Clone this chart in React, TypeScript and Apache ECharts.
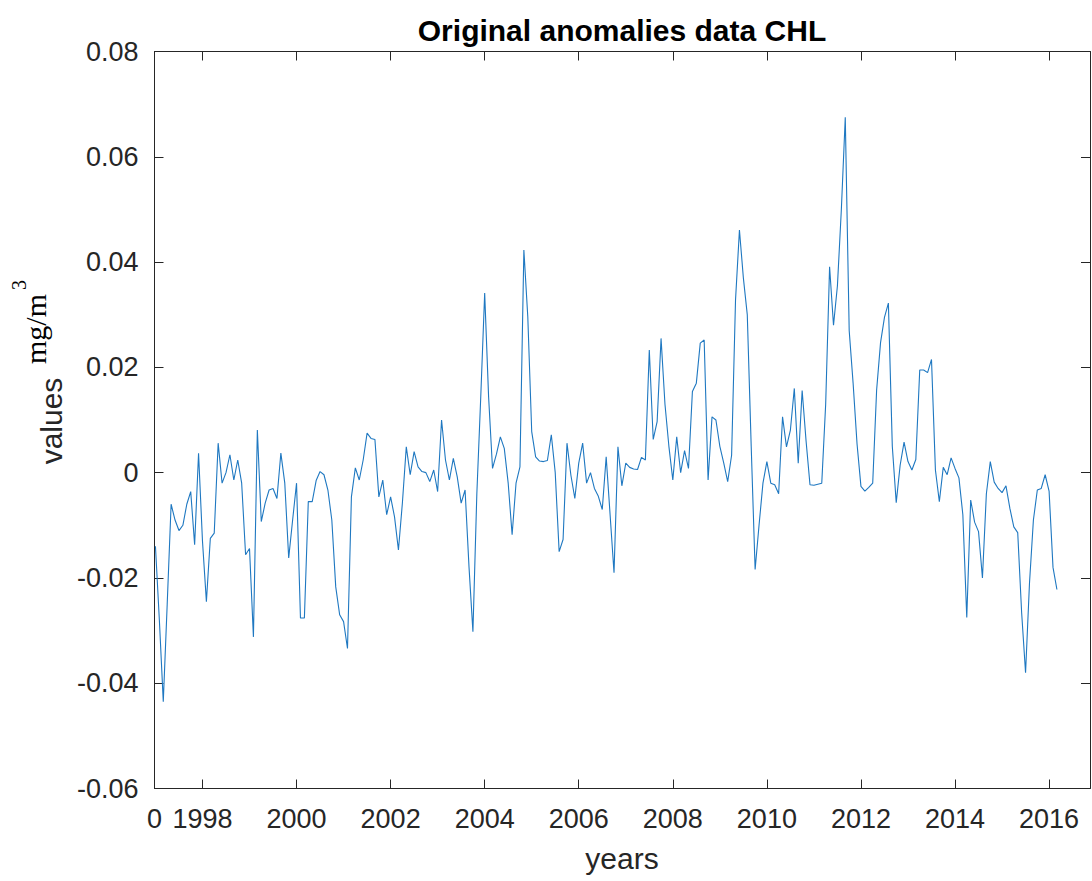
import React, { useEffect, useRef } from "react";
import * as echarts from "echarts";

// Monthly CHL anomalies (mg/m^3), starting Jan 1997
const START_YEAR = 1997;
const chl: number[] = [
  -0.014, -0.028, -0.0435, -0.025, -0.006, -0.009, -0.011, -0.01, -0.006, -0.0036,
  -0.0137, 0.0037, -0.013, -0.0245, -0.0125, -0.0115, 0.0056, -0.002, 0.0, 0.0034,
  -0.0014, 0.0024, -0.002, -0.0156, -0.0144, -0.0312, 0.0081, -0.0093, -0.0058, -0.0033,
  -0.003, -0.0049, 0.0037, -0.002, -0.0162, -0.009, -0.002, -0.0276, -0.0276, -0.0055,
  -0.0055, -0.0015, 0.0002, -0.0004, -0.0033, -0.009, -0.0217, -0.027, -0.0283, -0.0334,
  -0.0046, 0.0009, -0.0014, 0.0024, 0.0075, 0.0065, 0.0063, -0.0046, -0.0014, -0.008,
  -0.0046, -0.0084, -0.0147, -0.0058, 0.0049, -0.0004, 0.004, 0.0011, 0.0002, 0.0,
  -0.0017, 0.0005, -0.0036, 0.01, 0.0024, -0.0014, 0.0027, -0.0008, -0.0058, -0.0033,
  -0.0179, -0.0302, -0.004, 0.0144, 0.0341, 0.0144, 0.0008, 0.0035, 0.0068, 0.0046,
  -0.002, -0.0118, -0.002, 0.0011, 0.0423, 0.0296, 0.0078, 0.003, 0.0022, 0.0021,
  0.0023, 0.0072, 0.0, -0.015, -0.0127, 0.0056, -0.0005, -0.0049, 0.0018, 0.0056,
  -0.002, 0.0, -0.003, -0.0045, -0.007, 0.003, -0.008, -0.019, 0.0049, -0.0025,
  0.0018, 0.001, 0.0007, 0.0006, 0.0029, 0.0024, 0.0233, 0.0063, 0.0097, 0.0255,
  0.013, 0.005, -0.0014, 0.0068, 0.0, 0.0042, 0.0008, 0.0154, 0.017, 0.0246,
  0.0252, -0.0014, 0.0106, 0.01, 0.005, 0.0018, -0.0017, 0.0033, 0.0328, 0.0461,
  0.037, 0.03, 0.005, -0.0184, -0.01, -0.002, 0.0021, -0.002, -0.0023, -0.004,
  0.0106, 0.0049, 0.0081, 0.016, 0.0018, 0.0156, 0.006, -0.0023, -0.0024, -0.0022,
  -0.002, 0.013, 0.0391, 0.028, 0.0355, 0.05, 0.0675, 0.027, 0.017, 0.0055,
  -0.0026, -0.0035, -0.0028, -0.002, 0.0157, 0.0247, 0.0295, 0.0322, 0.005, -0.0057,
  0.0014, 0.0058, 0.0021, 0.0005, 0.0025, 0.0195, 0.0195, 0.019, 0.0215, 0.0005,
  -0.0055, 0.001, -0.0004, 0.0028, 0.0008, -0.001, -0.008, -0.0275, -0.0052, -0.0094,
  -0.0112, -0.02, -0.004, 0.0021, -0.0018, -0.003, -0.0038, -0.0025, -0.0068, -0.0103,
  -0.0114, -0.0266, -0.038, -0.021, -0.009, -0.0033, -0.003, -0.0004, -0.0035, -0.018,
  -0.0222,
];

const X_MIN = 1996.98;
const X_MAX = 2016.87;
const tickYears = [1998, 2000, 2002, 2004, 2006, 2008, 2010, 2012, 2014, 2016];
const labelValues = [X_MIN, ...tickYears];
const Y_MIN = -0.06;
const Y_MAX = 0.08;
const Y_STEP = 0.02;

const TITLE = "Original anomalies data CHL";
const X_NAME = "years";
const Y_NAME = "values";
const Y_UNIT = "mg/m";
const Y_UNIT_SUP = "3";

const SANS = '"Liberation Sans", Arial, Helvetica, sans-serif';
const SERIF = '"Liberation Serif", "Times New Roman", serif';
const AXIS_COLOR = "#262626";

export default function App() {
  const ref = useRef<HTMLDivElement>(null);

  useEffect(() => {
    if (!ref.current) return;
    const chart = echarts.init(ref.current, null, { renderer: "svg" });
    const data = chl.map((v, i) => [START_YEAR + i / 12, v]);

    const axisLine = { show: true, onZero: false, lineStyle: { color: AXIS_COLOR, width: 1 } };
    const tickStyle = { color: AXIS_COLOR, width: 1 };

    chart.setOption({
      animation: false,
      backgroundColor: "#ffffff",
      grid: { left: 154.5, right: 2, top: 51.5, bottom: 92.5 },
      xAxis: [
        {
          type: "value",
          min: X_MIN,
          max: X_MAX,
          position: "bottom",
          axisLine,
          axisTick: { show: true, inside: true, length: 9, customValues: tickYears, lineStyle: tickStyle },
          axisLabel: {
            show: true,
            customValues: labelValues,
            formatter: (v: number) => (v < 1997.5 ? "0" : String(Math.round(v))),
            fontSize: 27,
            fontFamily: SANS,
            color: AXIS_COLOR,
            margin: 17,
          },
          splitLine: { show: false },
        },
        {
          type: "value",
          min: X_MIN,
          max: X_MAX,
          position: "top",
          axisLine,
          axisTick: { show: true, inside: true, length: 9, customValues: tickYears, lineStyle: tickStyle },
          axisLabel: { show: false, customValues: tickYears },
          splitLine: { show: false },
        },
      ],
      yAxis: [
        {
          type: "value",
          min: Y_MIN,
          max: Y_MAX,
          interval: Y_STEP,
          position: "left",
          axisLine,
          axisTick: { show: true, inside: true, length: 9, lineStyle: tickStyle },
          axisLabel: {
            formatter: (v: number) => {
              const r = Math.round(v * 100) / 100;
              return r === 0 ? "0" : r.toFixed(2);
            },
            fontSize: 27,
            fontFamily: SANS,
            color: AXIS_COLOR,
            margin: 16,
          },
          splitLine: { show: false },
        },
        {
          type: "value",
          min: Y_MIN,
          max: Y_MAX,
          interval: Y_STEP,
          position: "right",
          axisLine,
          axisTick: { show: true, inside: true, length: 9, lineStyle: tickStyle },
          axisLabel: { show: false },
          splitLine: { show: false },
        },
      ],
      series: [
        {
          type: "line",
          xAxisIndex: 0,
          yAxisIndex: 0,
          data,
          showSymbol: false,
          symbol: "none",
          silent: true,
          lineStyle: { color: "#1f78c1", width: 1.1 },
        },
      ],
      graphic: [
        {
          type: "text",
          x: 622,
          y: 30,
          style: {
            text: TITLE,
            fontSize: 30,
            fontWeight: "bold",
            fontFamily: SANS,
            fill: "#000000",
            align: "center",
            verticalAlign: "middle",
          },
        },
        {
          type: "text",
          x: 622,
          y: 858,
          style: {
            text: X_NAME,
            fontSize: 30,
            fontFamily: SANS,
            fill: AXIS_COLOR,
            align: "center",
            verticalAlign: "middle",
          },
        },
        {
          type: "text",
          x: 51,
          y: 421,
          rotation: Math.PI / 2,
          style: {
            text: Y_NAME,
            fontSize: 30,
            fontFamily: SANS,
            fill: AXIS_COLOR,
            align: "center",
            verticalAlign: "middle",
          },
        },
        {
          type: "text",
          x: 35,
          y: 329,
          rotation: Math.PI / 2,
          style: {
            text: Y_UNIT,
            fontSize: 30,
            fontFamily: SERIF,
            fill: "#000000",
            align: "center",
            verticalAlign: "middle",
          },
        },
        {
          type: "text",
          x: 19,
          y: 285,
          rotation: Math.PI / 2,
          style: {
            text: Y_UNIT_SUP,
            fontSize: 20,
            fontFamily: SERIF,
            fill: "#000000",
            align: "center",
            verticalAlign: "middle",
          },
        },
      ],
    });

    return () => chart.dispose();
  }, []);

  return (
    <div
      ref={ref}
      style={{ position: "absolute", left: 0, top: 0, width: 1092, height: 881, background: "#fff" }}
    />
  );
}
